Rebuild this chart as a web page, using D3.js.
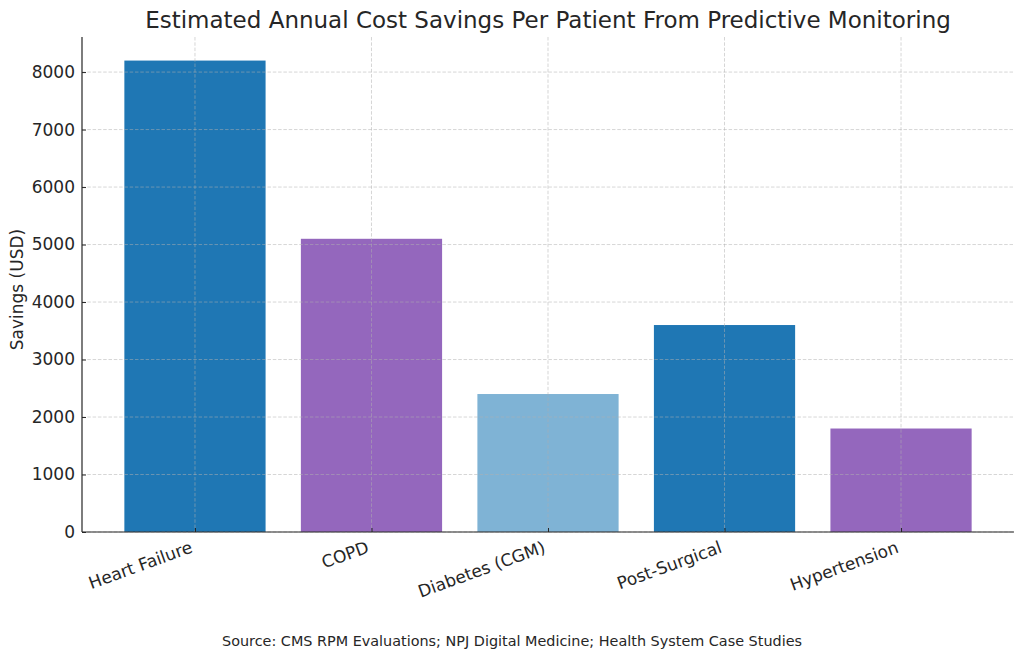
<!DOCTYPE html>
<html>
<head>
<meta charset="utf-8">
<script src="https://cdn.jsdelivr.net/npm/d3@7"></script>
<style>
  body { margin: 0; background: #fff; }
  text { font-family: "DejaVu Sans", sans-serif; fill: #262626; }
</style>
</head>
<body>
<div id="chart"></div>
<script>
// data
var categories = ["Heart Failure", "COPD", "Diabetes (CGM)", "Post-Surgical", "Hypertension"];
var savings = [8200, 5100, 2400, 3600, 1800];
var barColors = ["#1f77b4", "#9467bd", "#7fb3d5", "#1f77b4", "#9467bd"];
var yTicks = [0, 1000, 2000, 3000, 4000, 5000, 6000, 7000, 8000];

var W = 1024, H = 660;
var plot = {left: 82, right: 1014, top: 37, bottom: 532};

var svg = d3.select("#chart").append("svg")
  .attr("width", W).attr("height", H);

// x scale mimics matplotlib bar positions (width 0.8, 5% margins)
var x = d3.scaleLinear()
  .domain([-0.64, categories.length - 1 + 0.64])
  .range([plot.left, plot.right]);
var y = d3.scaleLinear()
  .domain([0, d3.max(savings) * 1.05])
  .range([plot.bottom, plot.top]);

// bars
svg.append("g").selectAll("rect")
  .data(savings)
  .join("rect")
  .attr("x", function(d, i) { return x(i - 0.4); })
  .attr("width", function(d, i) { return x(i + 0.4) - x(i - 0.4); })
  .attr("y", function(d) { return y(d); })
  .attr("height", function(d) { return plot.bottom - y(d); })
  .attr("fill", function(d, i) { return barColors[i]; });

// grid on top of bars
var grid = svg.append("g")
  .attr("stroke", "#b0b0b0")
  .attr("stroke-opacity", 0.65)
  .attr("stroke-width", 0.8)
  .attr("stroke-dasharray", "3.5,1.8");
grid.selectAll("line.h").data(yTicks).join("line")
  .attr("class", "h")
  .attr("x1", plot.left).attr("x2", plot.right)
  .attr("y1", function(d) { return y(d); }).attr("y2", function(d) { return y(d); });
grid.selectAll("line.v").data(categories).join("line")
  .attr("class", "v")
  .attr("y1", plot.top).attr("y2", plot.bottom)
  .attr("x1", function(d, i) { return x(i); }).attr("x2", function(d, i) { return x(i); });

// y axis
var yAxis = svg.append("g")
  .attr("transform", `translate(${plot.left},0)`)
  .call(d3.axisLeft(y).tickValues(yTicks).tickFormat(d3.format("d"))
    .tickSizeInner(-4).tickSizeOuter(0).tickPadding(7));
yAxis.select(".domain").attr("stroke", "#262626").attr("stroke-width", 1.2)
  .attr("d", `M0,${plot.top}V${plot.bottom}`);
yAxis.selectAll(".tick line").attr("stroke", "#262626");
yAxis.selectAll(".tick text").attr("font-size", "17px").attr("font-family", "DejaVu Sans").attr("fill", "#262626");

// x axis
var xAxis = svg.append("g")
  .attr("transform", `translate(0,${plot.bottom})`)
  .call(d3.axisBottom(x).tickValues(d3.range(categories.length)).tickSizeInner(-4).tickSizeOuter(0)
    .tickFormat(function(i) { return categories[i]; }));
xAxis.select(".domain").attr("stroke", "#262626").attr("stroke-width", 1.2)
  .attr("d", `M${plot.left},0H${plot.right}`);
xAxis.selectAll(".tick line").attr("stroke", "#262626");
xAxis.selectAll(".tick text")
  .attr("font-size", "17px").attr("font-family", "DejaVu Sans").attr("fill", "#262626")
  .attr("text-anchor", "end")
  .attr("y", 0).attr("dy", 0)
  .attr("transform", "translate(-2,20) rotate(-20)");

// y label
svg.append("text")
  .attr("transform", `translate(23,${(plot.top + plot.bottom) / 2 + 5}) rotate(-90)`)
  .attr("text-anchor", "middle")
  .attr("font-size", "17px")
  .text("Savings (USD)");

// title
svg.append("text")
  .attr("x", (plot.left + plot.right) / 2 + 0).attr("y", 28)
  .attr("text-anchor", "middle")
  .attr("font-size", "23px")
  .attr("fill", "#333")
  .text("Estimated Annual Cost Savings Per Patient From Predictive Monitoring");

// source note
svg.append("text")
  .attr("x", W / 2).attr("y", 646)
  .attr("text-anchor", "middle")
  .attr("font-size", "14.4px")
  .attr("fill", "#333")
  .text("Source: CMS RPM Evaluations; NPJ Digital Medicine; Health System Case Studies");
</script>
</body>
</html>
